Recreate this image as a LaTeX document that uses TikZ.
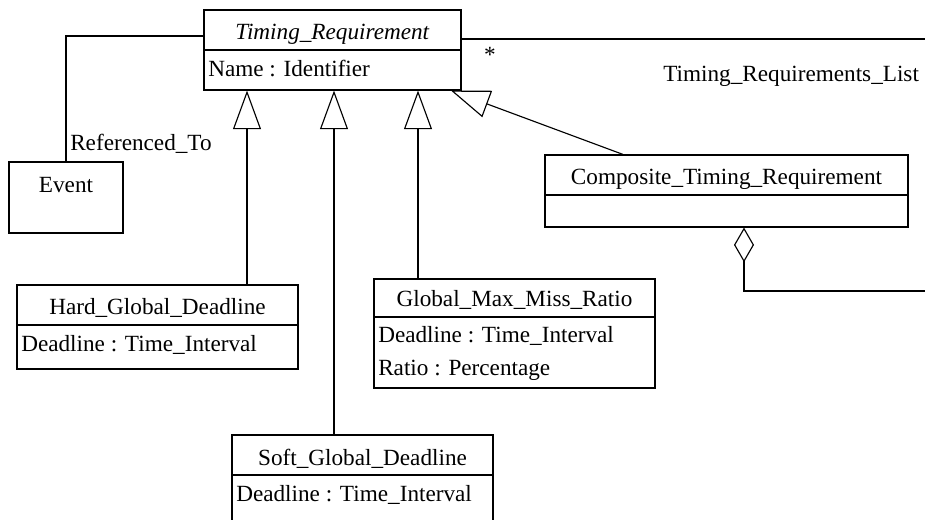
\documentclass[tikz,border=0pt]{standalone}
\usepackage{fontspec}
\setmainfont{Liberation Serif}
\usetikzlibrary{arrows.meta,fit}

\tikzset{
  umlbox/.style={draw, inner sep=0pt, line width=0.85pt, fill=white},
  label/.style={inner sep=0pt, font=\fontsize{17.4pt}{20pt}\selectfont},
  link/.style={line width=0.85pt},
  gen/.style={link, -{Triangle[open, length=29pt, width=21pt, line width=0.85pt]}},
  agg/.style={link, {Diamond[open, length=26pt, width=15pt, line width=0.85pt]}-},
}

\begin{document}
\begin{tikzpicture}[x=0.75pt, y=-0.75pt]
\useasboundingbox (0,0) rectangle (925,520);

% helper coordinates for connector positions
\coordinate (y36) at (0,36);
\coordinate (y39) at (0,39);
\coordinate (xg1) at (247,0);
\coordinate (xg2) at (334,0);
\coordinate (xg3) at (418,0);
\coordinate (xca) at (623,0);
\coordinate (xta) at (451,0);
\coordinate (xd) at (744,0);
\coordinate (listend) at (930,39);
\coordinate (aggend) at (930,291);

% Timing_Requirement
\node[umlbox, fit={(204,10) (461,90)}] (tr) {};
\draw[link] (204,50) -- (461,50);
\node[label, anchor=base] (trname) at (332.5,40) {\textit{Timing\_Requirement}};
\node[label, anchor=base west] (trattr) at (208,77) {Name : Identifier};

% Event
\node[umlbox, fit={(9,162) (123,233)}] (event) {};
\node[label, anchor=base] (eventname) at (66,193) {Event};

% Hard_Global_Deadline
\node[umlbox, fit={(17,285) (298,369)}] (hard) {};
\draw[link] (17,325) -- (298,325);
\node[label, anchor=base] (hardname) at (157.5,315) {Hard\_Global\_Deadline};
\node[label, anchor=base west] (hardattr) at (21,352) {Deadline : Time\_Interval};

% Global_Max_Miss_Ratio
\node[umlbox, fit={(374,279) (655,388)}] (gmmr) {};
\draw[link] (374,317) -- (655,317);
\node[label, anchor=base] (gmmrname) at (514.5,307) {Global\_Max\_Miss\_Ratio};
\node[label, anchor=base west] (gmmrattr1) at (378,343) {Deadline : Time\_Interval};
\node[label, anchor=base west] (gmmrattr2) at (378,375) {Ratio : Percentage};

% Soft_Global_Deadline
\node[umlbox, fit={(232,435) (493,540)}] (soft) {};
\draw[link] (232,475) -- (493,475);
\node[label, anchor=base] (softname) at (362.5,465) {Soft\_Global\_Deadline};
\node[label, anchor=base west] (softattr) at (236,501) {Deadline : Time\_Interval};

% Composite_Timing_Requirement
\node[umlbox, fit={(545,155) (908,227)}] (comp) {};
\draw[link] (545,195) -- (908,195);
\node[label, anchor=base] (compname) at (726.5,185) {Composite\_Timing\_Requirement};

% association to Event
\draw[link] (event.north) |- (tr.west |- y36);
\node[label, anchor=base west] (reflabel) at (70,151) {Referenced\_To};

% association Timing_Requirements_List
\draw[link] (tr.east |- y39) -- (listend);
\node[label, anchor=base] (mult) at (490,63) {*};
\node[label, anchor=base west] (listlabel) at (663,82) {Timing\_Requirements\_List};

% generalizations
\draw[gen] (hard.north -| xg1) -- (tr.south -| xg1);
\draw[gen] (soft.north -| xg2) -- (tr.south -| xg2);
\draw[gen] (gmmr.north -| xg3) -- (tr.south -| xg3);
\draw[gen] (comp.north -| xca) -- (tr.south -| xta);

% aggregation
\draw[agg] (comp.south -| xd) |- (aggend);
\end{tikzpicture}
\end{document}
